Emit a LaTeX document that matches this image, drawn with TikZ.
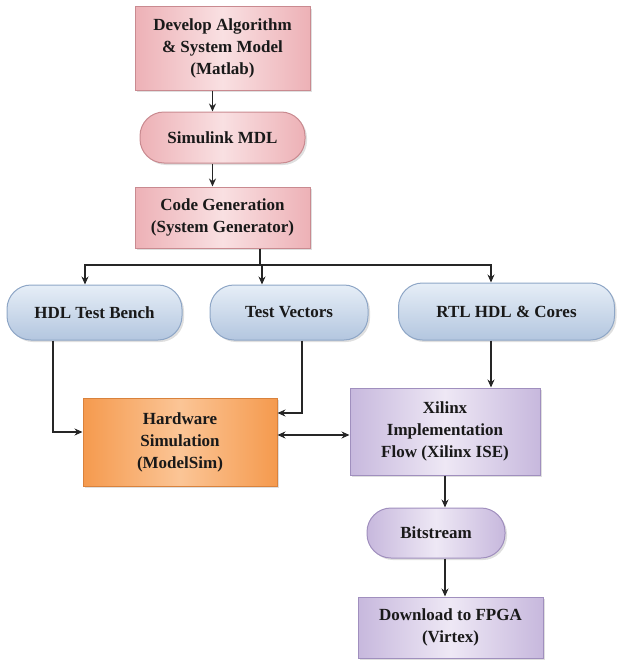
\documentclass[tikz,border=0pt]{standalone}
\usepackage{fontspec}
\setmainfont{Liberation Serif}
\usepackage{xcolor}
\usepackage{tikz}
\usetikzlibrary{calc,arrows.meta,shadows}

\definecolor{pinkA}{HTML}{EDB1B6}
\definecolor{pinkB}{HTML}{F9E0E2}
\definecolor{pinkD}{HTML}{C98A90}
\definecolor{blueA}{HTML}{B3C6DF}
\definecolor{blueB}{HTML}{E6EEF7}
\definecolor{blueD}{HTML}{8EA6C6}
\definecolor{orngA}{HTML}{F59A4E}
\definecolor{orngB}{HTML}{FBC596}
\definecolor{orngD}{HTML}{D9823C}
\definecolor{purpA}{HTML}{C7B8DD}
\definecolor{purpB}{HTML}{EEE8F5}
\definecolor{purpD}{HTML}{A08FBE}

\begin{document}
\begin{tikzpicture}[x=1pt,y=-1pt]
\tikzset{box/.style={align=center, draw, line width=1pt, font=\bfseries\fontsize{17}{22}\selectfont, text=black!90, inner sep=2pt, drop shadow={opacity=.25, shadow xshift=2pt, shadow yshift=-2pt}},
  pinkbox/.style={box, draw=pinkD, left color=pinkA, right color=pinkA, middle color=pinkB},
  pill/.style={rounded corners=24pt},
  bluepill/.style={box, pill, draw=blueD, top color=blueB, bottom color=blueA},
  orngbox/.style={box, draw=orngD, left color=orngA, right color=orngA, middle color=orngB},
  purpbox/.style={box, draw=purpD, left color=purpA, right color=purpA, middle color=purpB},
  arr/.style={-{Stealth[length=8pt,width=7pt]}, line width=1.4pt, black!85},
  arrs/.style={{Stealth[length=8pt,width=7pt]}-{Stealth[length=8pt,width=7pt]}, line width=1.4pt, black!85}};
\useasboundingbox (0,0) rectangle (616,661);

\node [pinkbox, minimum width=175, minimum height=83] (dev) at (222.5,48.5) {Develop Algorithm\\\& System Model\\(Matlab)};
\node [pinkbox, pill, minimum width=165, minimum height=51] (sim) at (222.5,137.5) {Simulink MDL};
\node [pinkbox, minimum width=175, minimum height=61] (code) at (222.5,217.5) {Code Generation\\(System Generator)};
\node [bluepill, minimum width=175, minimum height=55] (hdltb) at (94.5,312.5) {HDL Test Bench};
\node [bluepill, minimum width=158, minimum height=55] (tv) at (289,312.5) {Test Vectors};
\node [bluepill, minimum width=216, minimum height=57] (rtl) at (506.5,311.5) {RTL HDL \& Cores};
\node [orngbox, minimum width=194, minimum height=88] (hw) at (180,442) {Hardware\\Simulation\\(ModelSim)};
\node [purpbox, minimum width=190, minimum height=87] (xil) at (445,431.5) {Xilinx\\Implementation\\Flow (Xilinx ISE)};
\node [purpbox, pill, minimum width=138, minimum height=50] (bit) at (436,533) {Bitstream};
\node [purpbox, minimum width=185, minimum height=61] (dl) at (450.5,627.5) {Download to FPGA\\(Virtex)};

\coordinate (split) at (260,265);

\draw [arr] ([xshift=-10pt]dev.south) -- ([xshift=-10pt]dev.south |- sim.north);
\draw [arr] ([xshift=-10pt]sim.south) -- ([xshift=-10pt]sim.south |- code.north);
\draw [line width=1.4pt, black!85] (code.south -| split) -- (split);
\draw [arr] (split) -| ([xshift=-9.5pt]hdltb.north);
\draw [arr] (split) -| ([xshift=-27pt]tv.north);
\draw [arr] (split) -| ([xshift=-15.5pt]rtl.north);
\draw [arr] ([xshift=-41.5pt]hdltb.south) |- ([yshift=10pt]hw.west);
\draw [arr] ([xshift=13pt]tv.south) |- ([yshift=29pt]hw.east);
\draw [arrs] ([yshift=7pt]hw.east) -- ([yshift=7pt]hw.east -| xil.west);
\draw [arr] ([xshift=-15.5pt]rtl.south) -- ([xshift=-15.5pt]rtl.south |- xil.north);
\draw [arr] (xil.south) -- (xil.south |- bit.north);
\draw [arr] (xil.south |- bit.south) -- (xil.south |- dl.north);
\end{tikzpicture}
\end{document}
